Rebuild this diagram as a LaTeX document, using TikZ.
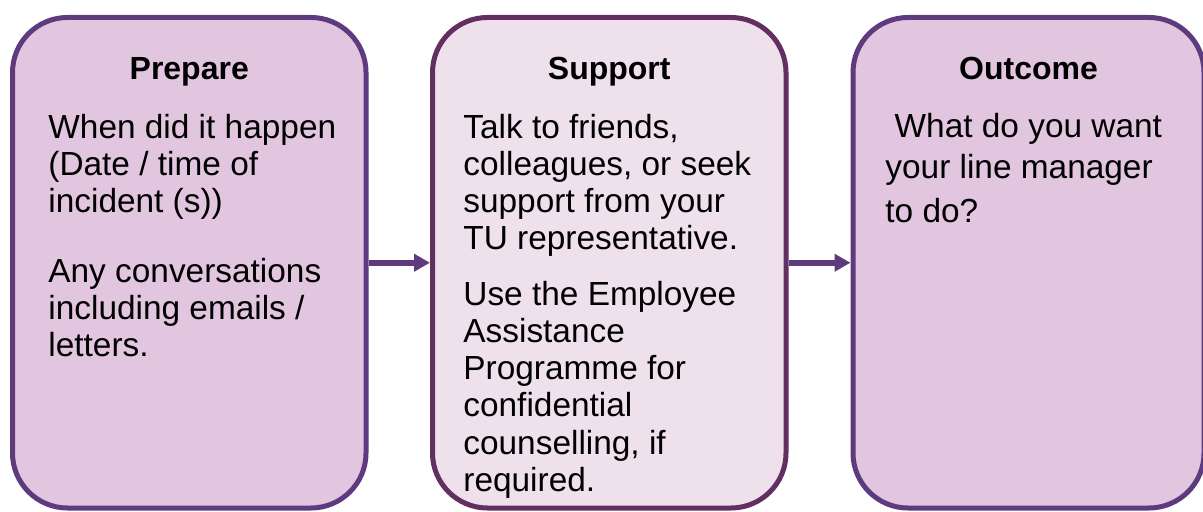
\documentclass[tikz,border=0pt]{standalone}
\usepackage{fontspec}
\setmainfont{Liberation Sans}
\usetikzlibrary{arrows.meta}

\definecolor{prepline}{HTML}{5E3A7E}
\definecolor{prepfill}{HTML}{E2C6DF}
\definecolor{suppline}{HTML}{632E60}
\definecolor{suppfill}{HTML}{EFE1EC}

\begin{document}
\begin{tikzpicture}[x=0.5pt,y=-0.5pt]
    \tikzstyle{stage}=[rectangle,rounded corners=27.5pt,line width=2.5pt,minimum width=176.75pt,minimum height=245.25pt,inner sep=0pt]
    \tikzstyle{prep stage}=[stage, draw=prepline, fill=prepfill]
    \tikzstyle{supp stage}=[stage, draw=suppline, fill=suppfill]
    \tikzstyle{title}=[font=\fontsize{16}{18.5}\selectfont\bfseries, anchor=base]
    \tikzstyle{body}=[font=\fontsize{16.7}{18.5}\selectfont, anchor=base west, inner sep=0pt]
    \tikzstyle{link}=[draw=prepline, line width=3pt, -{Triangle[length=8pt,width=8.5pt]}]

    \useasboundingbox (0,0) rectangle (1203,512);

    % Draw the three stages
    \node[prep stage] (prep) at (189.25,262.75) {};
    \node[supp stage] (supp) at (609.25,262.75) {};
    \node[prep stage, minimum width=175.5pt] (outc) at (1028.5,262.75) {};

    % Titles of the stages
    \node[title] (prep-title) at (prep.center |- 0,80) {Prepare};
    \node[title] (supp-title) at (supp.center |- 0,80) {Support};
    \node[title] (outc-title) at (outc.center |- 0,80) {Outcome};

    % Text in the first stage
    \foreach \y/\txt [count=\i] in {139/When did it happen, 176/{(Date / time of}, 213/incident (s)),
                                    283/Any conversations, 320/{including emails /}, 357/letters.}
        \node[body] (prep-\i) at (48,\y) {\txt};

    % Text in the second stage
    \foreach \y/\txt [count=\i] in {139/{Talk to friends,}, 176/{colleagues, or seek}, 213/support from your,
                                    250/TU representative., 306/Use the Employee, 343/Assistance,
                                    380/Programme for, 417/confidential, 454/{counselling, if}, 491/required.}
        \node[body] (supp-\i) at (463,\y) {\txt};

    % Text in the third stage
    \foreach \y/\txt [count=\i] in {138/\ What do you want, 179/your line manager, 223/to do?}
        \node[body] (outc-\i) at (885,\y) {\txt};

    % Connect the stages
    \draw[link] (prep) -- (supp);
    \draw[link] (supp) -- (outc);
\end{tikzpicture}
\end{document}
